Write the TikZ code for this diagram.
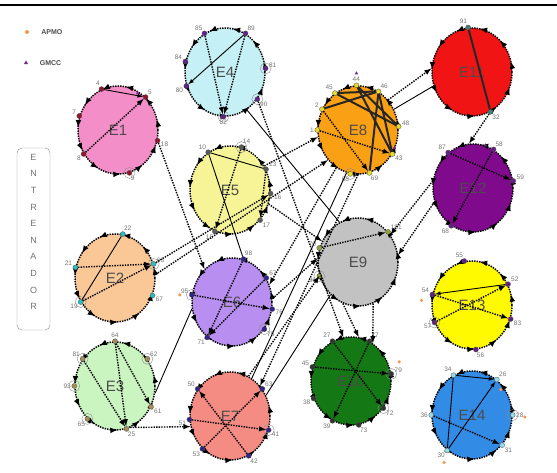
\documentclass[tikz,border=0pt]{standalone}
\usepackage{fontspec}
\setmainfont{Liberation Sans}
\usetikzlibrary{arrows,calc,positioning,shapes.geometric,decorations.markings}

\definecolor{pinkE}{RGB}{243,142,200}
\definecolor{cyanE}{RGB}{196,240,246}
\definecolor{lemonE}{RGB}{246,244,150}
\definecolor{orangeE}{RGB}{250,160,20}
\definecolor{redE}{RGB}{240,20,20}
\definecolor{purpleE}{RGB}{128,10,140}
\definecolor{peachE}{RGB}{250,200,150}
\definecolor{lilacE}{RGB}{184,142,240}
\definecolor{greyE}{RGB}{194,194,194}
\definecolor{mintE}{RGB}{202,244,192}
\definecolor{salmonE}{RGB}{245,140,132}
\definecolor{greenE}{RGB}{20,120,20}
\definecolor{yellowE}{RGB}{255,250,0}
\definecolor{blueE}{RGB}{50,140,230}
\definecolor{apmo}{RGB}{245,150,80}
\definecolor{gmcc}{RGB}{110,40,140}
\definecolor{maroonM}{RGB}{150,20,40}
\definecolor{plumM}{RGB}{100,30,140}
\definecolor{slateM}{RGB}{90,90,90}
\definecolor{goldM}{RGB}{230,220,40}
\definecolor{tealM}{RGB}{60,130,120}
\definecolor{aquaM}{RGB}{40,190,200}
\definecolor{navyM}{RGB}{50,35,140}
\definecolor{oliveM}{RGB}{150,160,60}
\definecolor{iceM}{RGB}{150,220,230}
\definecolor{tanM}{RGB}{170,140,90}

\begin{document}
\begin{tikzpicture}[x=1pt,y=1pt]
% The page is as large as the original figure.
\useasboundingbox (0,0) rectangle (557,473);

% This determines how the groups, their members and the links look.
\tikzstyle{cluster}=[ellipse,draw=black,line width=1.5pt,dash pattern=on 1.4pt off 1.1pt,
minimum width=80pt,minimum height=88pt,inner sep=0pt,text=black!70,font=\fontsize{15}{15}\selectfont,
postaction={decorate,decoration={markings,mark=between positions 0.04 and 1 step 0.09 with {\arrow[black]{latex}}}}]
\tikzstyle{member}=[circle,draw=black!70,line width=0.3pt,inner sep=0pt,minimum size=5pt]
\tikzstyle{num}=[font=\fontsize{6.5}{6.5}\selectfont,text=black!55,inner sep=0.6pt]
\tikzstyle{link}=[line width=1.4pt,dash pattern=on 1.4pt off 1.2pt,-latex]
\tikzstyle{tie}=[line width=0.9pt,black]
\tikzstyle{heavy}=[line width=2pt,black!85]
\tikzstyle{ring}=[draw=black!45,line width=0.4pt]
\tikzstyle{keytext}=[font=\bfseries\fontsize{7}{7}\selectfont,text=black!70,inner sep=0pt]

% This draws the rule on top.
\draw[line width=2pt] (0,468) -- (557,468);

% This draws the key.
\node[circle,fill=apmo,inner sep=0pt,minimum size=4pt] (apmoKey) at (27,441) {};
\node[keytext,right=12pt of apmoKey] (apmoText) {APMO};
\node[regular polygon,regular polygon sides=3,fill=gmcc,inner sep=0pt,minimum size=5pt] (gmccKey) at (26,410) {};
\node[keytext,right=12pt of gmccKey] (gmccText) {GMCC};

% This draws the trainer box.
\node[draw=black!45,rounded corners=5pt,minimum width=33pt,minimum height=182pt] (coach) at (33.5,234) {};
\node[align=center,text=black!55,font=\fontsize{9}{16.6}\selectfont] (coachName) at ($(coach.center)+(0,7)$)
{E\\N\\T\\R\\E\\N\\A\\D\\O\\R};

% This draws the groups.
\foreach \g/\x/\y/\col in {E4/225/401/cyanE,E1/118/343/pinkE,E5/230/283/lemonE,E8/358/343/orangeE,
E11/472/401/redE,E12/473/285/purpleE,E2/115/195/peachE,E6/232/171/lilacE,E9/358/211/greyE,
E13/472/168/yellowE,E3/115/87/mintE,E7/230/57/salmonE,E10/351/92/greenE,E14/472/58/blueE}
\node[cluster,fill=\col] (\g) at (\x,\y) {\g};

% This draws the members round each group.
\foreach \a/\t in {112/4,50/5,160/7,345/18,215/8,285/9}
\node[member,fill=maroonM,label={[num]\a:\t}] (E1-\t) at (E1.\a) {};
\foreach \a/\t in {118/85,62/89,165/84,5/81,200/80,268/82,320/90}
\node[member,fill=plumM,label={[num]\a:\t}] (E4-\t) at (E4.\a) {};
\foreach \a/\t in {120/10,75/14,30/13,355/16,315/17,250/15}
\node[member,fill=slateM,label={[num]\a:\t}] (E5-\t) at (E5.\a) {};
\foreach \a/\t in {122/45,92/44,62/46,150/2,180/1,5/48,325/43,285/69,260/68}
\node[member,fill=goldM,label={[num]\a:\t}] (E8-\t) at (E8.\a) {};
\foreach \a/\t in {95/91,295/32}
\node[member,fill=tealM,label={[num]\a:\t}] (E11-\t) at (E11.\a) {};
\foreach \a/\t in {125/87,62/58,10/59,240/68}
\node[member,fill=plumM,label={[num]\a:\t}] (E12-\t) at (E12.\a) {};
\foreach \a/\t in {80/22,165/21,20/63,215/19,335/67}
\node[member,fill=aquaM,label={[num]\a:\t}] (E2-\t) at (E2.\a) {};
\foreach \a/\t in {75/98,35/67,170/95,235/71,320/75,350/76}
\node[member,fill=navyM,label={[num]\a:\t}] (E6-\t) at (E6.\a) {};
\foreach \a/\t in {160/70,200/96,45/181}
\node[member,fill=oliveM,label={[num]\a:\t}] (E9-\t) at (E9.\a) {};
\foreach \a/\t in {100/55,30/52,165/54,205/57,340/83,275/56}
\node[member,fill=plumM,label={[num]\a:\t}] (E13-\t) at (E13.\a) {};
\foreach \a/\t in {115/27,65/77,160/45,205/38,245/39,280/73,320/72,10/79}
\node[member,fill=black!80,label={[num]\a:\t}] (E10-\t) at (E10.\a) {};
\foreach \a/\t in {115/34,55/26,0/28,180/36,235/30,315/31}
\node[member,fill=iceM,label={[num]\a:\t}] (E14-\t) at (E14.\a) {};
\foreach \a/\t in {90/64,140/81,40/62,180/93,230/65,285/25,330/61}
\node[member,fill=tanM,label={[num]\a:\t}] (E3-\t) at (E3.\a) {};
\foreach \a/\t in {140/50,40/63,230/53,295/42,340/41,185/51}
\node[member,fill=navyM,label={[num]\a:\t}] (E7-\t) at (E7.\a) {};

% This draws the self loops.
\foreach \m in {E1-9,E4-81,E4-90,E4-82,E5-14,E8-68,E2-63,E2-19,E6-95,E6-75,E9-96,
E3-81,E3-62,E3-93,E3-65,E7-41,E10-72,E10-79,E14-28,E13-57}
\draw[ring] (\m) circle (5.5);

% This draws the links inside the groups.
\draw[link] (E1-8) -- (E1-5);
\draw[tie,-latex] (E1-4) -- (E1-5);
\draw[tie,-latex] (E4-89) -- (E4-80);
\draw[link] (E4-85) -- (E4-82);
\draw[link] (E4-89) -- (E4-82);
\draw[tie] (E5-10) -- (E5-13);
\draw[link] (E5-14) -- (E5-15);
\draw[link] (E5-13) -- (E5-17);
\draw[heavy] (E8-45) -- (E8-48);
\draw[heavy] (E8-44) -- (E8-48);
\draw[heavy] (E8-44) -- (E8-43);
\draw[heavy] (E8-46) -- (E8-43);
\draw[heavy] (E8-2) -- (E8-46);
\draw[heavy] (E8-45) -- (E8-46);
\draw[heavy] (E8-46) -- (E8-69);
\draw[link] (E8-1) -- (E8-43);
\draw[link] (E8-2) -- (E8-69);
\draw[heavy] (E11-91) -- (E11-32);
\draw[link] (E12-87) -- (E12-59);
\draw[link] (E12-58) -- (E12-68);
\draw[tie] (E2-22) -- (E2-19);
\draw[link] (E2-21) -- (E2-63);
\draw[link] (E2-19) -- (E2-63);
\draw[link] (E6-95) -- (E6-76);
\draw[link] (E6-98) -- (E6-71);
\draw[link] (E6-67) -- (E6-71);
\draw[link] (E9-70) -- (E9-181);
\draw[tie,-latex] (E13-52) -- (E13-54);
\draw[link] (E13-57) -- (E13-52);
\draw[link] (E13-54) -- (E13-83);
\draw[link] (E3-64) -- (E3-25);
\draw[link] (E3-81) -- (E3-25);
\draw[link] (E3-64) -- (E3-61);
\draw[link] (E7-53) -- (E7-63);
\draw[link] (E7-42) -- (E7-50);
\draw[link] (E7-51) -- (E7-41);
\draw[link] (E10-27) -- (E10-72);
\draw[link] (E10-77) -- (E10-39);
\draw[link] (E10-45) -- (E10-79);
\draw[tie,-latex] (E14-30) -- (E14-26);
\draw[tie] (E14-34) -- (E14-30);
\draw[tie,-latex] (E14-34) -- (E14-26);
\draw[link] (E14-36) -- (E14-31);

% This draws the links between the groups.
\draw[link] (E1-18) -- (E6.130);
\draw[link] (E4-90) -- (E10.100);
\draw[tie] (E4.300) -- (E9.115);
\draw[link] (E5.35) -- (E8.190);
\draw[link] (E2-63) -- (E5-16);
\draw[link] (E2.5) -- (E8.225);
\draw[link] (E8.45) -- (E11.175);
\draw[tie] (E8.30) -- (E11.200);
\draw[link] (E8.240) -- (E6.25);
\draw[tie] (E8.255) -- (E7.60);
\draw[link] (E8.270) -- (E7.45);
\draw[link] (E11-32) -- (E12.95);
\draw[link] (E12.170) -- (E9.40);
\draw[link] (E12.200) -- (E9.10);
\draw[link] (E3.290) -- (E7.195);
\draw[tie] (E6.190) -- (E3.350);
\draw[tie] (E5-10) -- (E6-98);
\draw[link] (E7.65) -- (E9.200);
\draw[link] (E6.5) -- (E9.175);
\draw[link] (E9.250) -- (E10.80);
\draw[link] (E9.290) -- (E10.60);
\draw[link] (E5.340) -- (E9.150);
\draw[tie] (E7.30) -- (E9.230);

% This draws the APMO and GMCC marks.
\foreach \m/\dx/\dy [count=\i] in {E13-54/-11/-6,E14-28/12/-2,E14-30/-3/-12,E14-26/4/-10,E6-95/-12/0,E10-79/8/12}
\node[circle,fill=apmo,inner sep=0pt,minimum size=3.5pt] (apmo\i) at ($(\m)+(\dx,\dy)$) {};
\foreach \m/\dx/\dy [count=\i] in {E8-44/0/12,E12-58/-8/4,E8-43/2/6,E1-5/-8/4}
\node[regular polygon,regular polygon sides=3,fill=gmcc,inner sep=0pt,minimum size=4pt] (gmcc\i) at ($(\m)+(\dx,\dy)$) {};
\end{tikzpicture}
\end{document}
